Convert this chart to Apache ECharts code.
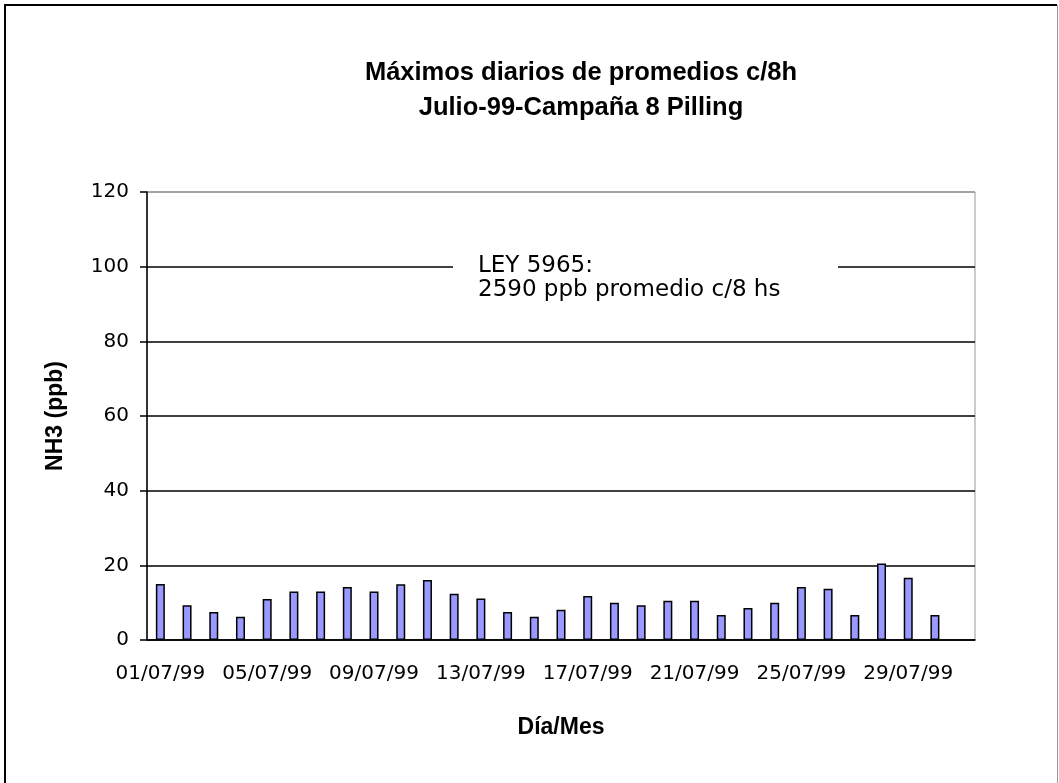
<!DOCTYPE html>
<html>
<head>
<meta charset="utf-8">
<script src="https://cdn.jsdelivr.net/npm/echarts@6/dist/echarts.min.js"></script>
<style>
  html, body { margin: 0; padding: 0; background: #fff; }
  #chart { width: 1059px; height: 783px; }
</style>
</head>
<body>
<div id="chart"></div>
<script>
// dias de julio 1999
var dias = ['01/07/99','02/07/99','03/07/99','04/07/99','05/07/99','06/07/99','07/07/99','08/07/99',
            '09/07/99','10/07/99','11/07/99','12/07/99','13/07/99','14/07/99','15/07/99','16/07/99',
            '17/07/99','18/07/99','19/07/99','20/07/99','21/07/99','22/07/99','23/07/99','24/07/99',
            '25/07/99','26/07/99','27/07/99','28/07/99','29/07/99','30/07/99','31/07/99'];
// maximos diarios NH3 (ppb)
var maximos = [15.0, 9.3, 7.5, 6.2, 11.0, 13.0, 13.0, 14.2, 13.0, 14.9, 16.1, 12.4, 11.1, 7.5, 6.2, 8.1,
               11.8, 10.0, 9.3, 10.5, 10.5, 6.7, 8.6, 10.0, 14.2, 13.7, 6.7, 20.5, 16.7, 6.7, null];
var yTicks = { min: 0, max: 120, interval: 20 };

(function () {
  var chart = echarts.init(document.getElementById('chart'));
  var option = {
    backgroundColor: '#fff',
    animation: false,
    grid: {
      show: true,
      left: 147, right: 84, top: 192, bottom: 143,
      borderColor: '#999', borderWidth: 1
    },
    xAxis: {
      type: 'category',
      data: dias,
      boundaryGap: true,
      name: 'Día/Mes',
      nameLocation: 'middle',
      nameGap: 76,
      nameTextStyle: { fontFamily: 'Liberation Sans', fontWeight: 'bold', fontSize: 23, color: '#000' },
      axisLine: { lineStyle: { color: '#000', width: 1.5 } },
      axisTick: { interval: 3, length: 6, lineStyle: { color: '#000', width: 1.5 } },
      axisLabel: { interval: 3, margin: 24, fontFamily: 'DejaVu Sans', fontSize: 20, color: '#000' },
      splitLine: { show: false }
    },
    yAxis: {
      type: 'value',
      min: yTicks.min, max: yTicks.max, interval: yTicks.interval,
      name: 'NH3 (ppb)',
      nameLocation: 'middle',
      nameGap: 80,
      nameRotate: 90,
      nameTextStyle: { fontFamily: 'Liberation Sans', fontWeight: 'bold', fontSize: 23, color: '#000' },
      axisLine: { show: true, lineStyle: { color: '#000', width: 1.5 } },
      axisTick: { show: true, length: 7, lineStyle: { color: '#000', width: 1.5 } },
      axisLabel: { margin: 18, fontFamily: 'DejaVu Sans', fontSize: 20, color: '#000' },
      splitLine: { lineStyle: { color: ['#000','#000','#000','#000','#000','#000','#999'], width: 1.5 } }
    },
    series: [{
      name: 'NH3',
      type: 'bar',
      barWidth: 9,
      data: maximos,
      itemStyle: { color: '#9999ff', borderColor: '#000', borderWidth: 1.5 }
    }],
    graphic: [
      // marco exterior
      { type: 'polyline', shape: { points: [[5, 783], [5, 5], [1057, 5]] },
        style: { stroke: '#000', lineWidth: 2, fill: null } },
      { type: 'line', shape: { x1: 1057.5, y1: 5, x2: 1057.5, y2: 783 },
        style: { stroke: '#999', lineWidth: 1 } },
      // titulo
      { type: 'text', x: 581, y: 73,
        style: { text: 'Máximos diarios de promedios c/8h', align: 'center', verticalAlign: 'middle',
                 font: 'bold 25.5px "Liberation Sans"', fill: '#000' } },
      { type: 'text', x: 581, y: 108,
        style: { text: 'Julio-99-Campaña 8 Pilling', align: 'center', verticalAlign: 'middle',
                 font: 'bold 25.5px "Liberation Sans"', fill: '#000' } },
      // recuadro de la ley
      { type: 'rect', z: 10, shape: { x: 453, y: 250, width: 385, height: 50 },
        style: { fill: '#fff', stroke: null } },
      { type: 'text', z: 11, x: 478, y: 266,
        style: { text: 'LEY 5965:', align: 'left', verticalAlign: 'middle',
                 font: '23px "DejaVu Sans"', fill: '#000' } },
      { type: 'text', z: 11, x: 478, y: 290,
        style: { text: '2590 ppb promedio c/8 hs', align: 'left', verticalAlign: 'middle',
                 font: '23px "DejaVu Sans"', fill: '#000' } }
    ]
  };
  chart.setOption(option);
})();
</script>
</body>
</html>
